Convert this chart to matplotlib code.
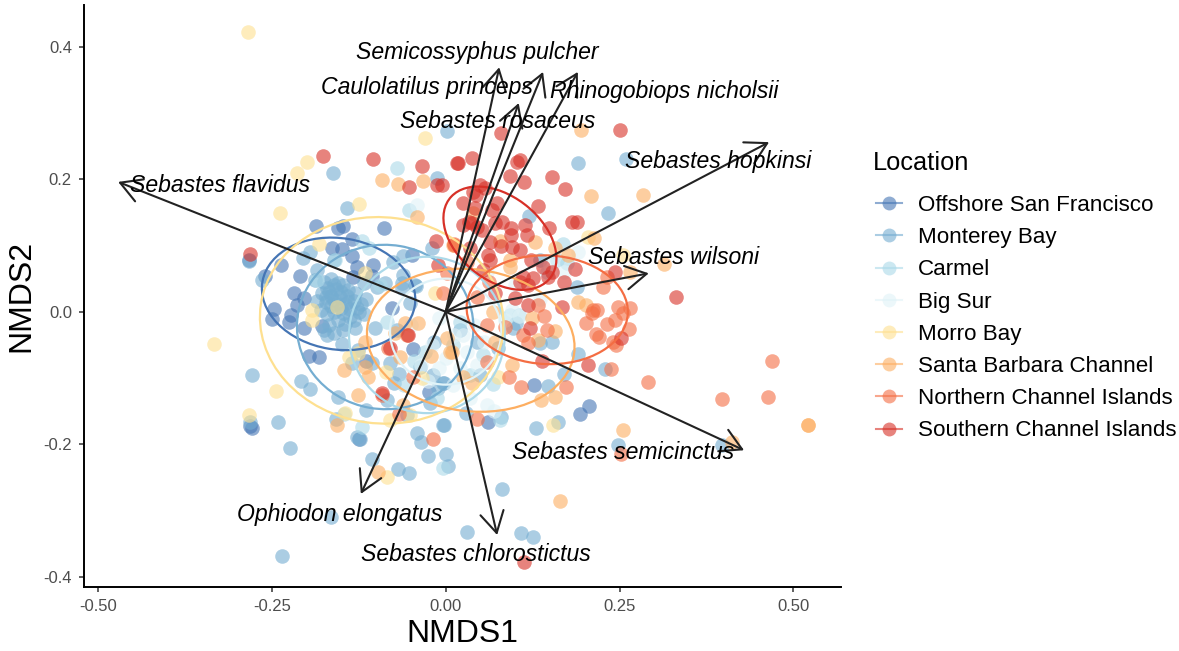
import matplotlib
matplotlib.use("Agg")
import matplotlib.pyplot as plt
from matplotlib.lines import Line2D
from matplotlib.patches import Ellipse

plt.rcParams['font.family'] = ['Liberation Sans', 'DejaVu Sans']

# site scores, one list per location
offshore = [(-0.186,0.129),(-0.155,0.126),(-0.148,0.129),(-0.089,0.126),(-0.135,0.110),(-0.164,0.096),
            (-0.149,0.094),(-0.135,0.084),(-0.105,0.070),(-0.128,0.068),(-0.134,0.053),(-0.106,0.054),
            (-0.048,0.086),(-0.237,0.070),(-0.209,0.054),(-0.260,0.054),(-0.283,0.078),(-0.218,0.028),
            (-0.204,0.021),(-0.247,0.004),(-0.250,-0.011),(-0.222,-0.005),(-0.225,-0.015),(-0.204,-0.025),
            (-0.178,-0.021),(-0.214,0.010),(-0.197,-0.067),(-0.182,-0.069),(-0.077,0.006),(-0.115,-0.074),
            (-0.047,-0.056),(-0.024,-0.121),(-0.279,-0.175),(-0.281,-0.172),(-0.125,-0.192),(0.127,-0.111),
            (0.206,-0.142),(0.193,-0.154),(0.061,-0.166)]
monterey = [(-0.162,0.209),(-0.142,0.157),(0.002,0.273),(-0.012,0.202),(-0.020,0.096),(-0.061,0.084),
            (-0.076,0.075),(-0.195,0.090),(-0.205,0.081),(-0.185,0.063),(-0.161,0.078),(-0.117,0.043),
            (-0.099,0.037),(-0.044,0.040),(-0.063,0.043),(-0.264,0.048),(-0.283,0.076),
            (-0.175,0.045),(-0.165,0.050),(-0.155,0.044),(-0.170,0.036),(-0.158,0.034),(-0.148,0.040),
            (-0.140,0.033),(-0.178,0.028),(-0.165,0.024),(-0.152,0.022),(-0.142,0.024),(-0.130,0.028),
            (-0.132,0.016),(-0.145,0.012),(-0.122,0.012),(-0.158,0.012),(-0.172,0.014),(-0.185,0.016),
            (-0.138,0.004),(-0.125,0.000),(-0.148,-0.002),(-0.160,0.000),(-0.170,-0.004),(-0.118,-0.004),
            (-0.132,-0.012),(-0.115,0.020),(-0.180,0.002),(-0.155,-0.012),(-0.145,-0.018),(-0.168,-0.020),
            (-0.175,-0.028),(-0.160,-0.032),(-0.148,-0.028),(-0.130,-0.024),(-0.188,0.048),
            (-0.168,0.030),(-0.160,0.040),(-0.150,0.030),(-0.172,0.022),(-0.160,0.018),(-0.150,0.006),
            (-0.140,0.014),(-0.165,0.008),(-0.128,0.006),(-0.138,-0.008),
            (-0.149,-0.049),(-0.171,-0.035),(-0.279,-0.096),(-0.208,-0.105),(-0.195,-0.117),(-0.155,-0.129),
            (-0.115,-0.148),(-0.158,-0.162),(-0.241,-0.166),(-0.281,-0.167),(-0.224,-0.206),(-0.127,-0.189),
            (-0.123,-0.192),(-0.041,-0.183),(-0.036,-0.196),(-0.004,-0.171),(-0.018,-0.096),(-0.004,-0.108),
            (-0.011,-0.115),(-0.067,-0.094),(-0.074,-0.108),(-0.080,-0.077),(-0.102,-0.025),(-0.070,-0.028),
            (-0.017,-0.046),(-0.135,-0.077),(-0.126,-0.058),(-0.106,-0.077),(-0.037,-0.083),(-0.023,-0.138),
            (-0.084,-0.133),(-0.056,-0.156),(-0.025,-0.218),(0.000,-0.214),(0.003,-0.233),(-0.106,-0.223),
            (-0.069,-0.238),(-0.053,-0.243),(-0.165,-0.310),(-0.236,-0.369),(0.081,-0.268),(0.031,-0.333),
            (0.108,-0.334),(0.126,-0.340),(0.130,-0.176),(0.161,-0.167),(0.248,-0.201),(0.397,-0.201),
            (0.229,-0.086),(0.190,-0.064),(0.170,-0.094),(0.147,-0.112),(0.153,-0.046),(0.136,-0.047),
            (0.080,-0.159),(0.029,-0.153),(-0.002,-0.171),(0.021,-0.028),(0.049,-0.096),(0.101,-0.017),
            (0.097,-0.025),(0.075,-0.055),(0.045,-0.046),(-0.002,-0.108),(0.190,0.224),(0.234,0.149),
            (0.259,0.230),(0.120,0.144),(0.189,0.037),(0.136,0.078),(-0.061,0.055),(-0.043,0.039),
            (-0.063,0.036),(-0.087,0.043),(-0.051,0.013)]
carmel = [(-0.070,0.217),(-0.053,0.153),(-0.120,0.107),(-0.110,0.096),(0.169,0.103),(0.174,0.073),
          (0.160,0.078),(-0.146,-0.155),(-0.120,-0.174),(-0.004,-0.236),(0.068,-0.109),(0.054,-0.065),
          (0.093,-0.005),(0.078,-0.164),(-0.159,0.078),(-0.185,0.048),(0.105,-0.005),(-0.030,-0.060),
          (-0.060,-0.110),(0.010,-0.050),(-0.095,0.040),(0.145,0.060),(-0.045,-0.075),(0.035,-0.095),
          (-0.012,-0.130),(0.020,-0.015),(-0.085,-0.015)]
bigsur = [(0.095,0.003),(0.105,-0.007),(0.085,-0.012),(0.030,-0.060),(0.020,-0.085),(0.045,-0.080),
          (0.010,-0.110),(-0.010,-0.085),(0.060,-0.140),(0.035,-0.130),(-0.020,-0.050),(-0.035,-0.080),
          (-0.041,0.161),(0.150,0.070),(0.190,0.090),(0.170,0.060),(0.135,0.020),(0.060,0.060),
          (0.100,0.040),(0.040,-0.020),(-0.010,-0.010),(0.012,-0.035),(0.070,-0.150),(-0.050,-0.020),
          (0.000,-0.070),(-0.025,-0.105),(0.055,-0.045),(0.025,-0.035)]
morro = [(-0.284,0.423),(-0.030,0.262),(-0.199,0.226),(-0.214,0.209),(-0.238,0.149),(-0.125,0.162),
         (-0.182,0.102),(-0.116,0.058),(-0.015,0.028),(-0.333,-0.048),(-0.244,-0.120),(-0.283,-0.156),
         (-0.192,0.003),(-0.192,-0.013),(-0.156,0.007),(-0.139,-0.068),(-0.126,-0.062),(-0.086,-0.091),
         (-0.080,-0.163),(-0.084,-0.249),(-0.034,-0.100),(-0.145,-0.153),(-0.051,-0.156),(0.075,-0.098),
         (0.154,-0.171),(0.205,0.113),(0.255,0.086)]
barbara = [(-0.091,0.199),(-0.069,0.193),(-0.033,0.197),(-0.041,0.143),(0.195,0.274),(0.209,0.175),
           (0.284,0.176),(0.213,0.111),(0.314,0.072),(0.265,0.060),(-0.146,-0.088),(-0.126,-0.126),
           (-0.116,-0.046),(-0.112,-0.099),(-0.116,-0.083),(-0.156,-0.171),(-0.097,-0.242),(-0.061,-0.141),
           (-0.066,-0.068),(-0.021,-0.067),(0.009,-0.061),(0.002,-0.040),(-0.059,-0.017),(-0.040,-0.017),
           (-0.073,-0.032),(0.164,-0.286),(0.255,-0.179),(0.412,-0.197),(0.521,-0.171),(0.521,-0.171),
           (0.095,-0.080),(0.137,-0.133),(0.157,-0.129),(0.038,-0.108),(0.025,-0.099),(0.006,-0.061),
           (0.071,-0.046),(0.157,-0.029),(0.133,-0.043),(0.124,-0.010),(0.068,0.000),(0.190,0.015),
           (0.202,0.010),(0.078,0.107),(0.128,0.105),(0.157,0.096),(0.176,0.086),(0.010,0.100),
           (0.039,0.149),(0.093,0.078),(0.093,0.068)]
northern = [(0.469,-0.074),(0.398,-0.132),(0.463,-0.129),(0.291,-0.106),(0.238,-0.087),(0.173,-0.113),
            (0.108,-0.113),(0.091,-0.099),(0.059,-0.076),(0.045,-0.162),(0.252,-0.214),(0.202,-0.017),
            (0.232,-0.019),(0.220,-0.038),(0.216,-0.034),(0.243,-0.013),(0.263,-0.026),(0.241,-0.046),
            (0.245,-0.050),(0.255,-0.002),(0.248,0.007),(0.265,0.005),(0.218,0.003),(0.210,-0.002),
            (0.141,-0.006),(0.146,-0.028),(0.111,-0.035),(0.119,-0.047),(0.059,-0.020),(0.085,-0.023),
            (0.012,0.102),(0.002,0.058),(0.045,0.022),(0.232,0.052),(0.226,0.037),(0.212,0.003),
            (0.133,0.010),(-0.018,-0.192),(-0.092,-0.126),(-0.067,-0.154),(-0.047,-0.099),(-0.083,-0.055),
            (-0.056,-0.035),(-0.004,0.028),(0.012,0.100),(0.030,0.075),(0.062,0.045)]
southern = [(-0.176,0.235),(-0.104,0.231),(-0.034,0.220),(-0.053,0.188),(-0.012,0.191),(0.016,0.224),
            (-0.014,0.107),(-0.011,0.070),(-0.281,0.087),(0.080,0.270),(0.251,0.275),(0.038,0.232),
            (0.018,0.225),(0.107,0.229),(0.103,0.226),(0.093,0.205),(0.113,0.196),(0.153,0.203),
            (0.171,0.185),(0.133,0.159),(0.182,0.135),(0.189,0.135),(0.149,0.126),(0.331,0.022),
            (0.049,0.191),(0.057,0.187),(0.039,0.181),(0.025,0.164),(0.042,0.156),(0.067,0.153),
            (0.074,0.164),(0.025,0.131),(0.038,0.134),(0.052,0.123),(0.071,0.134),(0.081,0.135),
            (0.094,0.126),(0.094,0.116),(0.114,0.131),(0.117,0.116),(0.064,0.105),(0.080,0.099),
            (0.095,0.098),(0.107,0.093),(0.035,0.096),(0.061,0.086),(0.064,0.078),(0.123,0.078),
            (0.140,0.068),(0.153,0.060),(0.147,0.052),(0.186,0.064),(0.170,0.045),(0.126,0.051),
            (0.111,0.052),(0.107,0.045),(0.118,0.040),(-0.005,0.191),(0.100,0.021),(0.118,0.010),
            (0.167,0.007),(0.071,0.028),(0.054,0.063),(0.243,0.060),(0.121,-0.024),(0.139,-0.074),
            (0.205,-0.080),(0.252,-0.040),(-0.091,-0.123),(-0.054,-0.035),(-0.080,-0.055),(0.113,-0.378),
            (0.044,0.176),(0.034,0.135),(0.045,0.128)]

locations = ['Offshore San Francisco', 'Monterey Bay', 'Carmel', 'Big Sur', 'Morro Bay',
             'Santa Barbara Channel', 'Northern Channel Islands', 'Southern Channel Islands']
location_points = [offshore, monterey, carmel, bigsur, morro, barbara, northern, southern]
location_colors = ['#4575b4', '#74add1', '#abd9e9', '#e0f3f8', '#fee090', '#fdae61', '#f46d43', '#d73027']

# centre x, centre y, full width, full height, tilt of the 95% ellipses
ellipse_params = [(-0.154, 0.027, 0.222, 0.168, -10), (-0.087, -0.023, 0.254, 0.248, -10),
                  (-0.027, -0.035, 0.224, 0.236, 0), (0.000, -0.030, 0.160, 0.160, 0),
                  (-0.092, -0.013, 0.351, 0.311, -8), (0.036, -0.043, 0.300, 0.214, -8),
                  (0.146, 0.003, 0.232, 0.164, -3), (0.078, 0.111, 0.188, 0.124, -42)]

species = ['Semicossyphus pulcher', 'Caulolatilus princeps', 'Rhinogobiops nicholsii', 'Sebastes rosaceus',
           'Sebastes hopkinsi', 'Sebastes flavidus', 'Sebastes wilsoni', 'Sebastes semicinctus',
           'Ophiodon elongatus', 'Sebastes chlorostictus']
arrow_x = [0.077, 0.105, 0.190, 0.140, 0.465, -0.471, 0.292, 0.429, -0.122, 0.074]
arrow_y = [0.369, 0.315, 0.362, 0.362, 0.256, 0.196, 0.058, -0.209, -0.275, -0.337]
label_x = [0.046, -0.027, 0.314, 0.074, 0.392, -0.324, 0.328, 0.255, -0.153, 0.043]
label_y = [0.391, 0.338, 0.333, 0.287, 0.227, 0.191, 0.082, -0.212, -0.306, -0.366]

fig = plt.figure(figsize=(11.79, 6.51), dpi=100)
ax = fig.add_axes([83.7 / 1179, 64.3 / 651, (841 - 83.7) / 1179, (586.7 - 5) / 651])

for pts, col in zip(location_points, location_colors):
    ax.scatter([p[0] for p in pts], [p[1] for p in pts], s=110, color=col, alpha=0.6, linewidths=0, zorder=2)

for (cx, cy, w, h, tilt), col in zip(ellipse_params, location_colors):
    ax.add_patch(Ellipse((cx, cy), w, h, angle=tilt, fill=False, edgecolor=col, lw=1.6, zorder=3))

for ex, ey in zip(arrow_x, arrow_y):
    ax.annotate('', xy=(ex, ey), xytext=(0, 0), zorder=4,
                arrowprops=dict(arrowstyle='->,head_length=15,head_width=8.5', mutation_scale=1,
                                shrinkA=0, shrinkB=0, color='#222222', lw=1.5))

for name, lx, ly in zip(species, label_x, label_y):
    ax.text(lx, ly, name, style='italic', fontsize=16.6, ha='center', va='center', color='black', zorder=5)

ax.set_xlim(-0.5205, 0.5684)
ax.set_ylim(-0.415, 0.463)
ax.set_xticks([-0.50, -0.25, 0.00, 0.25, 0.50])
ax.set_xticklabels(['-0.50', '-0.25', '0.00', '0.25', '0.50'])
ax.set_yticks([-0.4, -0.2, 0.0, 0.2, 0.4])
ax.set_yticklabels(['-0.4', '-0.2', '0.0', '0.2', '0.4'])
ax.tick_params(labelsize=12, labelcolor='#4d4d4d', color='#333333', length=3.5, width=1.1, pad=5)
ax.spines['top'].set_visible(False)
ax.spines['right'].set_visible(False)
ax.spines['left'].set_linewidth(1.4)
ax.spines['bottom'].set_linewidth(1.4)
ax.set_xlabel('NMDS1', fontsize=23, labelpad=4)
ax.set_ylabel('NMDS2', fontsize=23, labelpad=5)

handles = [Line2D([0], [0], color=c, lw=1.5, marker='o', markersize=10, markeredgewidth=0, alpha=0.6)
           for c in location_colors]
fig.text(873 / 1179, 1 - 163 / 651, 'Location', fontsize=18.3, va='center', ha='left')
fig.legend(handles, locations, loc='upper left', bbox_to_anchor=(855.5 / 1179, 1 - 175 / 651), frameon=False,
           fontsize=16.1, handlelength=1.17, handletextpad=0.72, labelspacing=0.5, borderpad=0.4)

fig.savefig('out.png', dpi=100)
